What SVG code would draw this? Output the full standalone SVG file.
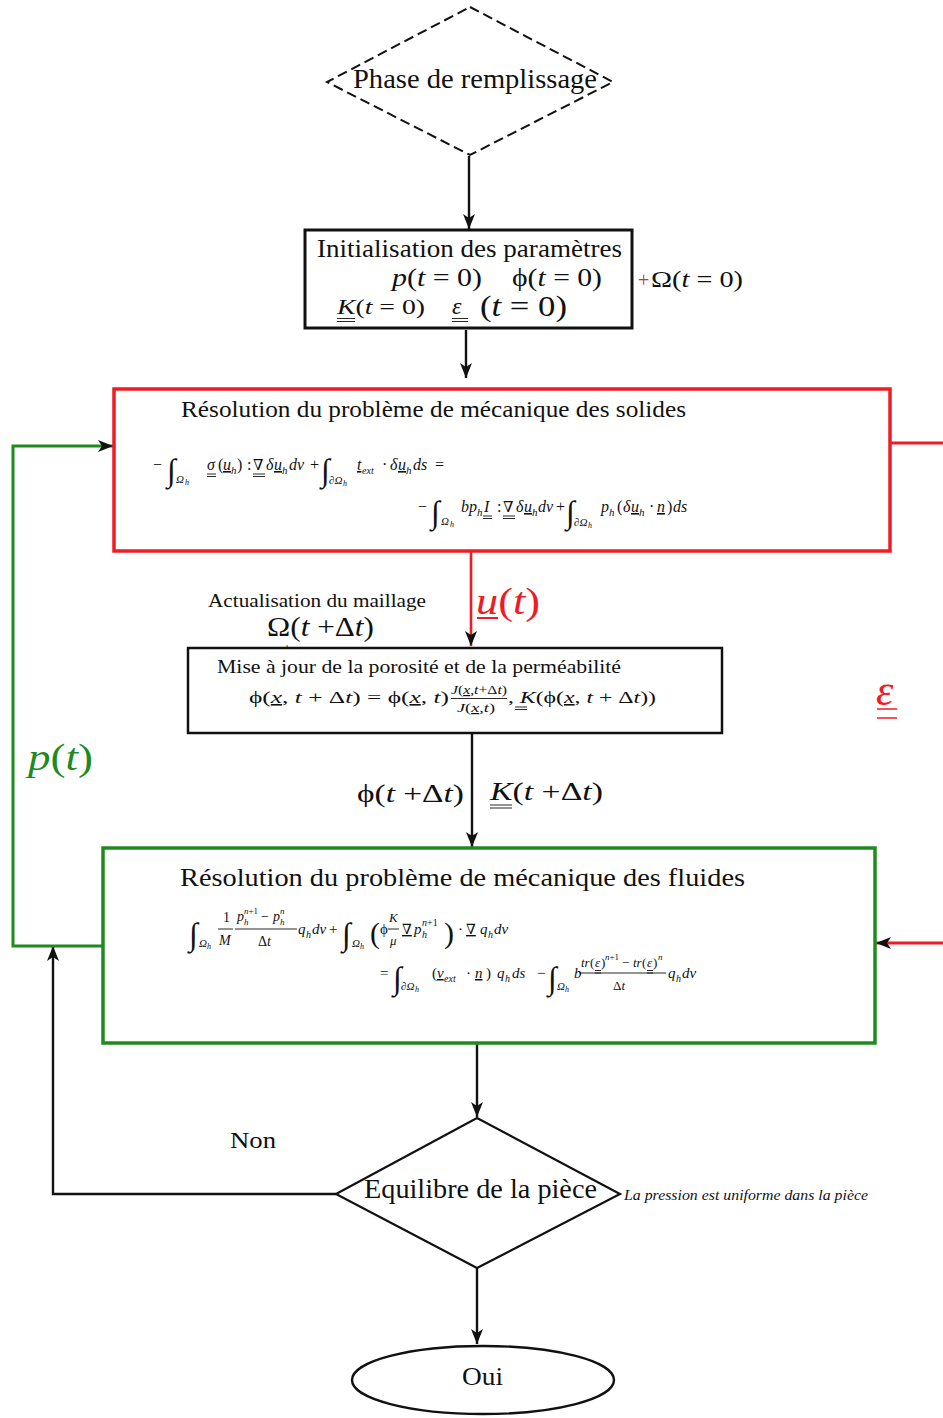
<svg xmlns="http://www.w3.org/2000/svg" width="943" height="1418" viewBox="0 0 943 1418">
<style>
.s{font-family:"Liberation Serif","DejaVu Serif",serif;fill:#111}
.it{font-style:italic}
.ul{text-decoration:underline}
.u{stroke:#111;stroke-width:0.9;fill:none}
.ln{fill:none;stroke:#111;stroke-width:2.4}
.box{fill:#fff;stroke:#111}
.red{fill:#ee1c25}
.grn{fill:#1f8b1f}
</style>
<defs>
<marker id="ah" markerWidth="16" markerHeight="12" refX="15" refY="6" orient="auto" markerUnits="userSpaceOnUse">
<path d="M0,0 L15,6 L0,12 L4,6 Z" fill="#111"/>
</marker>
</defs>
<rect width="943" height="1418" fill="#fff"/>

<g id="connectors">
<line class="ln" x1="469" y1="156" x2="469" y2="229" marker-end="url(#ah)"/>
<line class="ln" x1="466" y1="330" x2="466" y2="378" marker-end="url(#ah)"/>
<line x1="471" y1="552" x2="471" y2="646" stroke="#ee1c25" stroke-width="2.6" marker-end="url(#ah)"/>
<line class="ln" x1="472" y1="734" x2="472" y2="847" marker-end="url(#ah)"/>
<line class="ln" x1="477" y1="1044" x2="477" y2="1117" marker-end="url(#ah)"/>
<line class="ln" x1="477" y1="1268" x2="477" y2="1344" marker-end="url(#ah)"/>
<path class="ln" d="M336,1194 H53 V946" marker-end="url(#ah)"/>
<path d="M103,946 H13 V446 H113" fill="none" stroke="#1f8b1f" stroke-width="3" marker-end="url(#ah)"/>
<path d="M890,443 H943" fill="none" stroke="#ee1c25" stroke-width="3"/>
<path d="M943,943 H876" fill="none" stroke="#ee1c25" stroke-width="3" marker-end="url(#ah)"/>
<g id="connector-labels">
<text class="s" x="208" y="607" font-size="19.5" textLength="218" lengthAdjust="spacingAndGlyphs">Actualisation du maillage</text>
<text class="s" x="267" y="636" font-size="27" textLength="107" lengthAdjust="spacingAndGlyphs">Ω(<tspan class="it">t</tspan> +Δ<tspan class="it">t</tspan>)</text>
<text x="286" y="652" font-size="9" font-family="Liberation Sans, sans-serif" fill="#222">h</text>
<text class="s red" x="476" y="614" font-size="38" textLength="64" lengthAdjust="spacingAndGlyphs"><tspan class="it">u</tspan>(<tspan class="it">t</tspan>)</text>
<line x1="477" y1="618" x2="498" y2="618" stroke="#ee1c25" stroke-width="2"/>
<text class="s" x="357" y="802" font-size="26" textLength="107" lengthAdjust="spacingAndGlyphs">ϕ(<tspan class="it">t</tspan> +Δ<tspan class="it">t</tspan>)</text>
<text class="s" x="490" y="800" font-size="26" textLength="113" lengthAdjust="spacingAndGlyphs"><tspan class="it">K</tspan>(<tspan class="it">t</tspan> +Δ<tspan class="it">t</tspan>)</text>
<path class="u" d="M490,805 H512 M490,808 H512" stroke-width="1.2"/>
<text class="s grn" x="28" y="770" font-size="37" textLength="65" lengthAdjust="spacingAndGlyphs"><tspan class="it">p</tspan>(<tspan class="it">t</tspan>)</text>
<text class="s red it" x="876" y="705" font-size="44">ε</text>
<path d="M877,709 H897 M877,718 H897" stroke="#ee1c25" stroke-width="1.5" fill="none"/>
<text class="s" x="230" y="1148" font-size="24" textLength="46" lengthAdjust="spacingAndGlyphs">Non</text>
</g>
</g>

<g id="phase">
<polygon points="470,7 613,82 470,155 327,82" fill="#fff" stroke="#111" stroke-width="2" stroke-dasharray="10 5"/>
<text class="s" x="353" y="88" font-size="27" textLength="244" lengthAdjust="spacingAndGlyphs">Phase de remplissage</text>
</g>

<g id="init">
<rect class="box" x="305" y="230" width="327" height="98" stroke-width="3"/>
<text class="s" x="317" y="257" font-size="26" textLength="305" lengthAdjust="spacingAndGlyphs">Initialisation des paramètres</text>
<text class="s" x="392" y="286" font-size="25" textLength="90" lengthAdjust="spacingAndGlyphs"><tspan class="it">p</tspan>(<tspan class="it">t</tspan> = 0)</text>
<text class="s" x="512" y="286" font-size="25" textLength="90" lengthAdjust="spacingAndGlyphs">ϕ(<tspan class="it">t</tspan> = 0)</text>
<text class="s" x="337" y="314" font-size="22" textLength="88" lengthAdjust="spacingAndGlyphs"><tspan class="it">K</tspan>(<tspan class="it">t</tspan> = 0)</text>
<path class="u" d="M337,318.5 H355 M337,321.5 H355" stroke-width="1.1"/>
<text class="s it" x="452" y="314" font-size="24">ε</text>
<path class="u" d="M452,318.5 H468 M452,321.5 H468" stroke-width="1.1"/>
<text class="s" x="480" y="316" font-size="30" textLength="87" lengthAdjust="spacingAndGlyphs">(<tspan class="it">t</tspan> = 0)</text>
<text class="s" x="638" y="287" font-size="20" style="fill:#c0392b">+</text>
<text class="s" x="651" y="287" font-size="24" textLength="92" lengthAdjust="spacingAndGlyphs">Ω(<tspan class="it">t</tspan> = 0)</text>
</g>

<g id="solid">
<rect x="114" y="389" width="776" height="162" fill="none" stroke="#ee1c25" stroke-width="3.5"/>
<text class="s" x="181" y="417" font-size="23.5" textLength="505" lengthAdjust="spacingAndGlyphs">Résolution du problème de mécanique des solides</text>
<text class="s" font-size="16">
<tspan x="153" y="470">−</tspan>
<tspan x="167" y="481" font-size="32">∫</tspan>
<tspan x="176" y="483" font-size="11" class="it">Ω</tspan><tspan x="185" y="485" font-size="8" class="it">h</tspan>
<tspan x="207" y="470" class="it">σ</tspan>
<tspan x="218" y="470">(</tspan><tspan x="223" y="470" class="it ul">u</tspan><tspan x="231" y="473.5" font-size="11" class="it">h</tspan><tspan x="237" y="470">)</tspan>
<tspan x="247" y="470">:</tspan>
<tspan x="253" y="470" font-size="15">∇</tspan>
<tspan x="266" y="470" class="it">δ</tspan><tspan x="274" y="470" class="it ul">u</tspan><tspan x="282" y="473.5" font-size="11" class="it">h</tspan><tspan x="289" y="470" class="it">dv</tspan>
<tspan x="310" y="470">+</tspan>
<tspan x="321" y="481" font-size="32">∫</tspan>
<tspan x="329" y="484" font-size="11" class="it">∂Ω</tspan><tspan x="343" y="486" font-size="8" class="it">h</tspan>
<tspan x="357" y="470" class="it ul">t</tspan><tspan x="362" y="473.5" font-size="10" class="it">ext</tspan>
<tspan x="382" y="470">·</tspan>
<tspan x="390" y="470" class="it">δ</tspan><tspan x="398" y="470" class="it ul">u</tspan><tspan x="406" y="473.5" font-size="11" class="it">h</tspan><tspan x="413" y="470" class="it">ds</tspan>
<tspan x="435" y="470">=</tspan>
</text>
<path class="u" d="M207,474 H216 M207,476.5 H216 M253,474 H265 M253,476.5 H265"/>
<text class="s" font-size="16">
<tspan x="418" y="512">−</tspan>
<tspan x="431" y="523" font-size="32">∫</tspan>
<tspan x="441" y="525" font-size="11" class="it">Ω</tspan><tspan x="450" y="527" font-size="8" class="it">h</tspan>
<tspan x="461" y="512" class="it">b</tspan><tspan x="469" y="512" class="it">p</tspan><tspan x="477" y="515.5" font-size="11" class="it">h</tspan><tspan x="484" y="512" class="it">I</tspan>
<tspan x="497" y="512">:</tspan>
<tspan x="503" y="512" font-size="15">∇</tspan>
<tspan x="516" y="512" class="it">δ</tspan><tspan x="524" y="512" class="it ul">u</tspan><tspan x="532" y="515.5" font-size="11" class="it">h</tspan><tspan x="538" y="512" class="it">dv</tspan>
<tspan x="556" y="512">+</tspan>
<tspan x="566" y="523" font-size="32">∫</tspan>
<tspan x="574" y="526" font-size="11" class="it">∂Ω</tspan><tspan x="588" y="528" font-size="8" class="it">h</tspan>
<tspan x="601" y="512" class="it">p</tspan><tspan x="609" y="515.5" font-size="11" class="it">h</tspan>
<tspan x="617" y="512">(</tspan><tspan x="623" y="512" class="it">δ</tspan><tspan x="631" y="512" class="it ul">u</tspan><tspan x="639" y="515.5" font-size="11" class="it">h</tspan>
<tspan x="649" y="512">·</tspan><tspan x="657" y="512" class="it ul">n</tspan><tspan x="667" y="512">)</tspan><tspan x="673" y="512" class="it">ds</tspan>
</text>
<path class="u" d="M483,516 H492 M483,518.5 H492 M503,516 H515 M503,518.5 H515"/>
</g>

<g id="porosity">
<rect class="box" x="188" y="648" width="534" height="85" stroke-width="2.5"/>
<text class="s" x="217" y="673" font-size="19.5" textLength="404" lengthAdjust="spacingAndGlyphs">Mise à jour de la porosité et de la perméabilité</text>
<text class="s" x="249" y="703" font-size="16" textLength="200" lengthAdjust="spacingAndGlyphs">ϕ(<tspan class="it ul">x</tspan>, <tspan class="it">t</tspan> + Δ<tspan class="it">t</tspan>) = ϕ(<tspan class="it ul">x</tspan>, <tspan class="it">t</tspan>)</text>
<text class="s" x="451" y="694" font-size="12" textLength="56" lengthAdjust="spacingAndGlyphs"><tspan class="it">J</tspan>(<tspan class="it ul">x</tspan>,<tspan class="it">t</tspan>+Δ<tspan class="it">t</tspan>)</text>
<line class="u" x1="451" y1="698.5" x2="507" y2="698.5" stroke-width="0.7"/>
<text class="s" x="457" y="712" font-size="12" textLength="38" lengthAdjust="spacingAndGlyphs"><tspan class="it">J</tspan>(<tspan class="it ul">x</tspan>,<tspan class="it">t</tspan>)</text>
<text class="s" x="508" y="703" font-size="16" textLength="148" lengthAdjust="spacingAndGlyphs">, <tspan class="it">K</tspan>(ϕ(<tspan class="it ul">x</tspan>, <tspan class="it">t</tspan> + Δ<tspan class="it">t</tspan>))</text>
<path class="u" d="M515,707 H527 M515,709.5 H527"/>
</g>

<g id="fluid">
<rect x="103" y="848" width="772" height="195" fill="none" stroke="#1f8b1f" stroke-width="3.5"/>
<text class="s" x="180" y="886" font-size="26" textLength="565" lengthAdjust="spacingAndGlyphs">Résolution du problème de mécanique des fluides</text>
<text class="s" font-size="15">
<tspan x="189" y="945" font-size="32">∫</tspan>
<tspan x="199" y="947" font-size="11" class="it">Ω</tspan><tspan x="207" y="949" font-size="8" class="it">h</tspan>
<tspan x="223" y="922" font-size="14">1</tspan><tspan x="219" y="945" font-size="14" class="it">M</tspan>
<tspan x="237" y="921" font-size="14" class="it">p</tspan><tspan x="244" y="925" font-size="9" class="it">h</tspan><tspan x="244" y="914" font-size="9" class="it">n</tspan><tspan font-size="9">+1</tspan>
<tspan x="261" y="921" font-size="14">−</tspan>
<tspan x="273" y="921" font-size="14" class="it">p</tspan><tspan x="280" y="925" font-size="9" class="it">h</tspan><tspan x="280" y="914" font-size="9" class="it">n</tspan>
<tspan x="258" y="946" font-size="14">Δ</tspan><tspan font-size="14" class="it">t</tspan>
<tspan x="298" y="934" class="it">q</tspan><tspan x="306" y="937.5" font-size="10" class="it">h</tspan><tspan x="312" y="934" class="it">dv</tspan>
<tspan x="329" y="934">+</tspan>
<tspan x="342" y="945" font-size="32">∫</tspan>
<tspan x="352" y="947" font-size="11" class="it">Ω</tspan><tspan x="360" y="949" font-size="8" class="it">h</tspan>
<tspan x="370" y="943" font-size="30">(</tspan>
<tspan x="380" y="934">ϕ</tspan>
<tspan x="389" y="922" font-size="13" class="it">K</tspan><tspan x="390" y="945" font-size="13" class="it">μ</tspan>
<tspan x="402" y="934" font-size="14" class="ul">∇</tspan>
<tspan x="414" y="934" class="it">p</tspan><tspan x="422" y="938" font-size="10" class="it">h</tspan><tspan x="422" y="926" font-size="10" class="it">n</tspan><tspan font-size="10">+1</tspan>
<tspan x="444" y="943" font-size="30">)</tspan>
<tspan x="458" y="934">·</tspan>
<tspan x="466" y="934" font-size="14" class="ul">∇</tspan>
<tspan x="480" y="934" class="it">q</tspan><tspan x="488" y="937.5" font-size="10" class="it">h</tspan><tspan x="494" y="934" class="it">dv</tspan>
</text>
<path class="u" d="M218,929 H233 M235,929 H297 M388,929 H399" stroke-width="0.8"/>
<text class="s" font-size="15">
<tspan x="380" y="978">=</tspan>
<tspan x="393" y="989" font-size="32">∫</tspan>
<tspan x="401" y="990" font-size="11" class="it">∂Ω</tspan><tspan x="415" y="992" font-size="8" class="it">h</tspan>
<tspan x="432" y="978">(</tspan><tspan x="437" y="978" class="it ul">v</tspan><tspan x="444" y="981.5" font-size="10" class="it">ext</tspan>
<tspan x="466" y="978">·</tspan><tspan x="475" y="978" class="it ul">n</tspan><tspan x="486" y="978">)</tspan>
<tspan x="497" y="978" class="it">q</tspan><tspan x="505" y="981.5" font-size="10" class="it">h</tspan><tspan x="512" y="978" class="it">ds</tspan>
<tspan x="537" y="978">−</tspan>
<tspan x="548" y="989" font-size="32">∫</tspan>
<tspan x="557" y="990" font-size="11" class="it">Ω</tspan><tspan x="565" y="992" font-size="8" class="it">h</tspan>
<tspan x="574" y="978" class="it">b</tspan>
<tspan x="581" y="967" font-size="13" class="it">tr</tspan><tspan x="590" y="967" font-size="13">(</tspan><tspan x="595" y="967" font-size="13" class="it">ε</tspan><tspan x="601" y="967" font-size="13">)</tspan><tspan x="605" y="960" font-size="9" class="it">n</tspan><tspan font-size="9">+1</tspan>
<tspan x="622" y="967" font-size="13">−</tspan>
<tspan x="633" y="967" font-size="13" class="it">tr</tspan><tspan x="642" y="967" font-size="13">(</tspan><tspan x="647" y="967" font-size="13" class="it">ε</tspan><tspan x="653" y="967" font-size="13">)</tspan><tspan x="658" y="960" font-size="9" class="it">n</tspan>
<tspan x="613" y="990" font-size="13">Δ</tspan><tspan font-size="13" class="it">t</tspan>
<tspan x="668" y="978" class="it">q</tspan><tspan x="676" y="981.5" font-size="10" class="it">h</tspan><tspan x="682" y="978" class="it">dv</tspan>
</text>
<path class="u" d="M579,973 H666" stroke-width="0.8"/>
<path class="u" d="M595,970.5 H601 M595,973 H601 M647,970.5 H653 M647,973 H653" stroke-width="0.7"/>
</g>

<g id="equilibre">
<polygon points="477,1118 620,1194 477,1268 336,1194" fill="#fff" stroke="#111" stroke-width="2.2"/>
<text class="s" x="364" y="1198" font-size="26.5" textLength="233" lengthAdjust="spacingAndGlyphs">Equilibre de la pièce</text>
<text class="s it" x="624" y="1200" font-size="14.5" textLength="244" lengthAdjust="spacingAndGlyphs">La pression est uniforme dans la pièce</text>
</g>

<g id="oui">
<ellipse cx="483" cy="1380" rx="131" ry="34" fill="#fff" stroke="#111" stroke-width="2.4"/>
<text class="s" x="462" y="1385" font-size="25" textLength="41" lengthAdjust="spacingAndGlyphs">Oui</text>
</g>
</svg>
